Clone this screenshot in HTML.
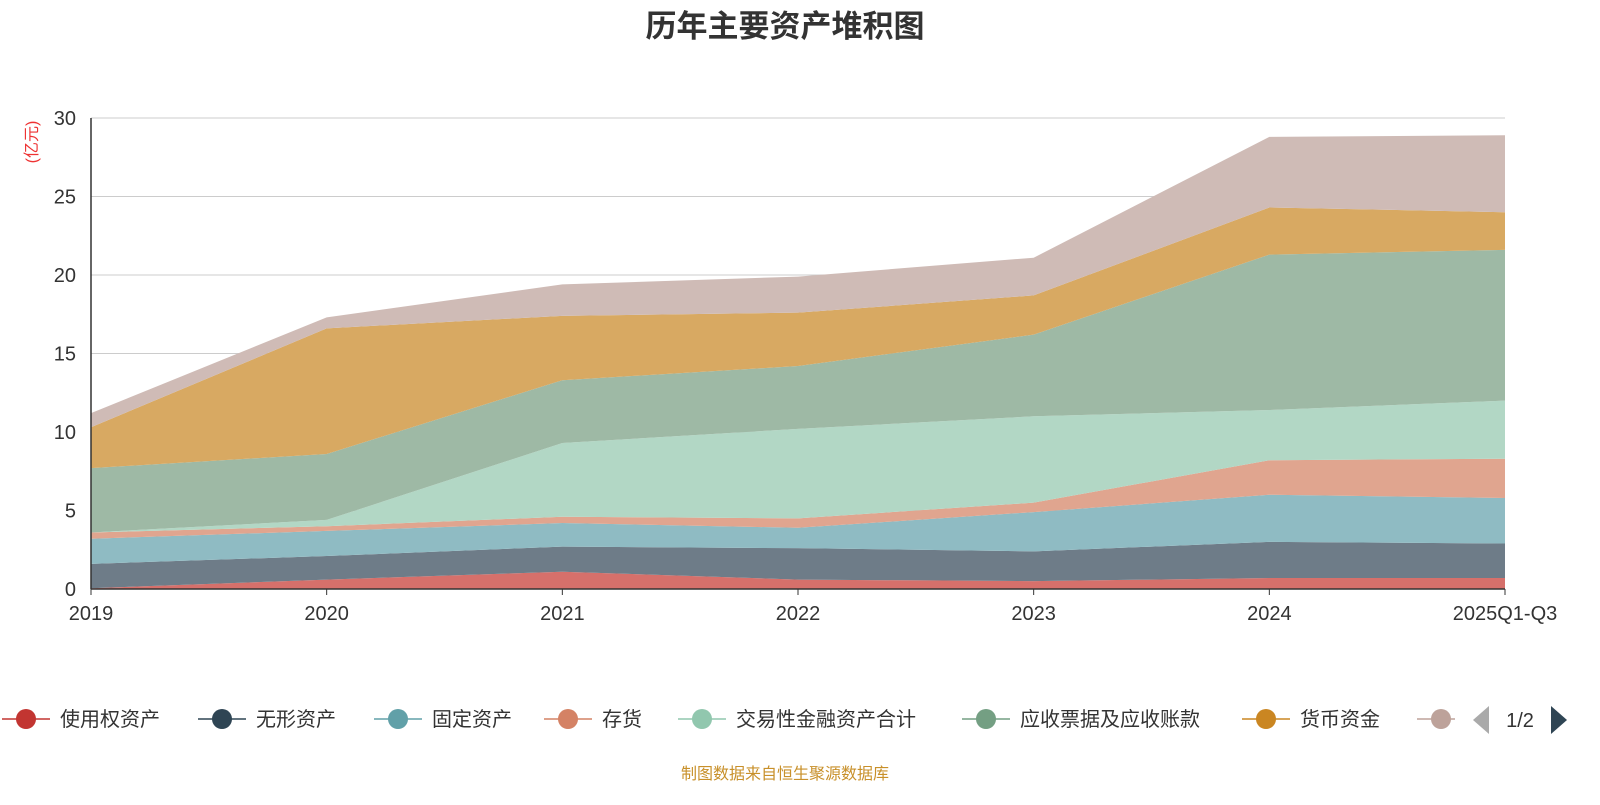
<!DOCTYPE html>
<html><head><meta charset="utf-8">
<style>
body{margin:0;background:#fff;width:1600px;height:800px;overflow:hidden;font-family:"Liberation Sans","Noto Sans CJK SC",sans-serif;}
svg text{font-family:"Liberation Sans","Noto Sans CJK SC",sans-serif;}
</style></head>
<body>
<svg id="chart" width="1600" height="800">
<text x="785" y="37" text-anchor="middle" font-size="31" font-weight="bold" fill="#333">历年主要资产堆积图</text>
<text transform="translate(37,142) rotate(-90)" text-anchor="middle" font-size="16" fill="#e33">(亿元)</text>
<g id="grid"></g><g id="areas"></g><g id="axes"></g><g id="legend"></g>
<text x="785" y="779" text-anchor="middle" font-size="16" fill="#c8902a">制图数据来自恒生聚源数据库</text>
</svg>
<script>
const categories=["2019","2020","2021","2022","2023","2024","2025Q1-Q3"];
const seriesNames=["使用权资产","无形资产","固定资产","存货","交易性金融资产合计","应收票据及应收账款","货币资金","其他"];
const s0=[0.05,0.6,1.1,0.6,0.5,0.7,0.7];
const s1=[1.55,1.5,1.6,2.0,1.9,2.3,2.2];
const s2=[1.6,1.6,1.5,1.3,2.5,3.0,2.9];
const s3=[0.4,0.3,0.4,0.6,0.6,2.2,2.5];
const s4=[0.0,0.4,4.7,5.7,5.5,3.2,3.7];
const s5=[4.1,4.2,4.0,4.0,5.2,9.9,9.6];
const s6=[2.6,8.0,4.1,3.4,2.5,3.0,2.4];
const s7=[0.9,0.7,2.0,2.3,2.4,4.5,4.9];
const yTicks=[0,5,10,15,20,25,30];
const series=[s0,s1,s2,s3,s4,s5,s6,s7];
const fills=["#d6706b","#6e7c88","#8fbbc3","#e0a58f","#b2d7c5","#9eb9a5","#d8a962","#cfbbb6"];
const lineCols=["#c23531","#2f4554","#61a0a8","#d48265","#91c7ae","#749f83","#ca8622","#bda29a"];
const X0=91,X1=1505,Y0=589,Y1=118,YMAX=30;
const xs=i=>X0+i*(X1-X0)/(categories.length-1);
const ys=v=>Y0-v/YMAX*(Y0-Y1);
const NS="http://www.w3.org/2000/svg";
function mk(t,a,p){const e=document.createElementNS(NS,t);for(const k in a)e.setAttribute(k,a[k]);p.appendChild(e);return e;}
const grid=document.getElementById('grid'),axes=document.getElementById('axes'),areas=document.getElementById('areas'),leg=document.getElementById('legend');
yTicks.forEach(v=>{
 if(v>0){const g=mk('line',{x1:X0,x2:X1,y1:ys(v),y2:ys(v),stroke:'#ccc','stroke-width':1},grid);
 
 }
 const t=mk('text',{x:X0-15,y:ys(v)+7,'text-anchor':'end','font-size':20,fill:'#333'},axes);t.textContent=v;
 
 
});
let cum=categories.map(()=>0);
series.forEach((s,k)=>{
 const lo=cum.slice();const hi=cum.map((c,i)=>c+s[i]);
 let d='M'+hi.map((v,i)=>xs(i)+','+ys(v)).join('L');
 for(let i=lo.length-1;i>=0;i--)d+='L'+xs(i)+','+ys(lo[i]);
 const p=mk('path',{d:d+'Z',fill:fills[k]},areas);
 
 
 cum=hi;
});
mk('line',{x1:X0,x2:X0,y1:Y1,y2:Y0,stroke:'#333','stroke-width':1.5},axes);
mk('line',{x1:X0,x2:X1,y1:Y0,y2:Y0,stroke:'#333','stroke-width':1.5},axes);
categories.forEach((c,i)=>{
 mk('line',{x1:xs(i),x2:xs(i),y1:Y0,y2:Y0+6,stroke:'#333'},axes);
 const t=mk('text',{x:xs(i),y:Y0+31,'text-anchor':'middle','font-size':20,fill:'#333'},axes);t.textContent=c;
 
 
});
const lx=[26,222,398,568,702,986,1266,1441];
seriesNames.forEach((n,k)=>{
 const g=mk('g',{},leg);
 
 
 mk('line',{x1:lx[k]-24,x2:lx[k]+24,y1:719,y2:719,stroke:lineCols[k],'stroke-width':1.5},g);
 mk('circle',{cx:lx[k],cy:719,r:10,fill:lineCols[k]},g);
 if(k<7){const t=mk('text',{x:lx[k]+34,y:726,'font-size':20,fill:'#333'},g);t.textContent=n;}
});
const pg=mk('g',{},leg);


mk('rect',{x:1455,y:690,width:18,height:60,fill:'#fff'},pg);
mk('polygon',{points:'1489,706 1489,734 1473,720',fill:'#aaa'},pg);
const pt=mk('text',{x:1520,y:727,'font-size':20,fill:'#333','text-anchor':'middle'},pg);pt.textContent='1/2';
mk('polygon',{points:'1551,706 1551,734 1567,720',fill:'#2f4554'},pg);
</script>
</body></html>
